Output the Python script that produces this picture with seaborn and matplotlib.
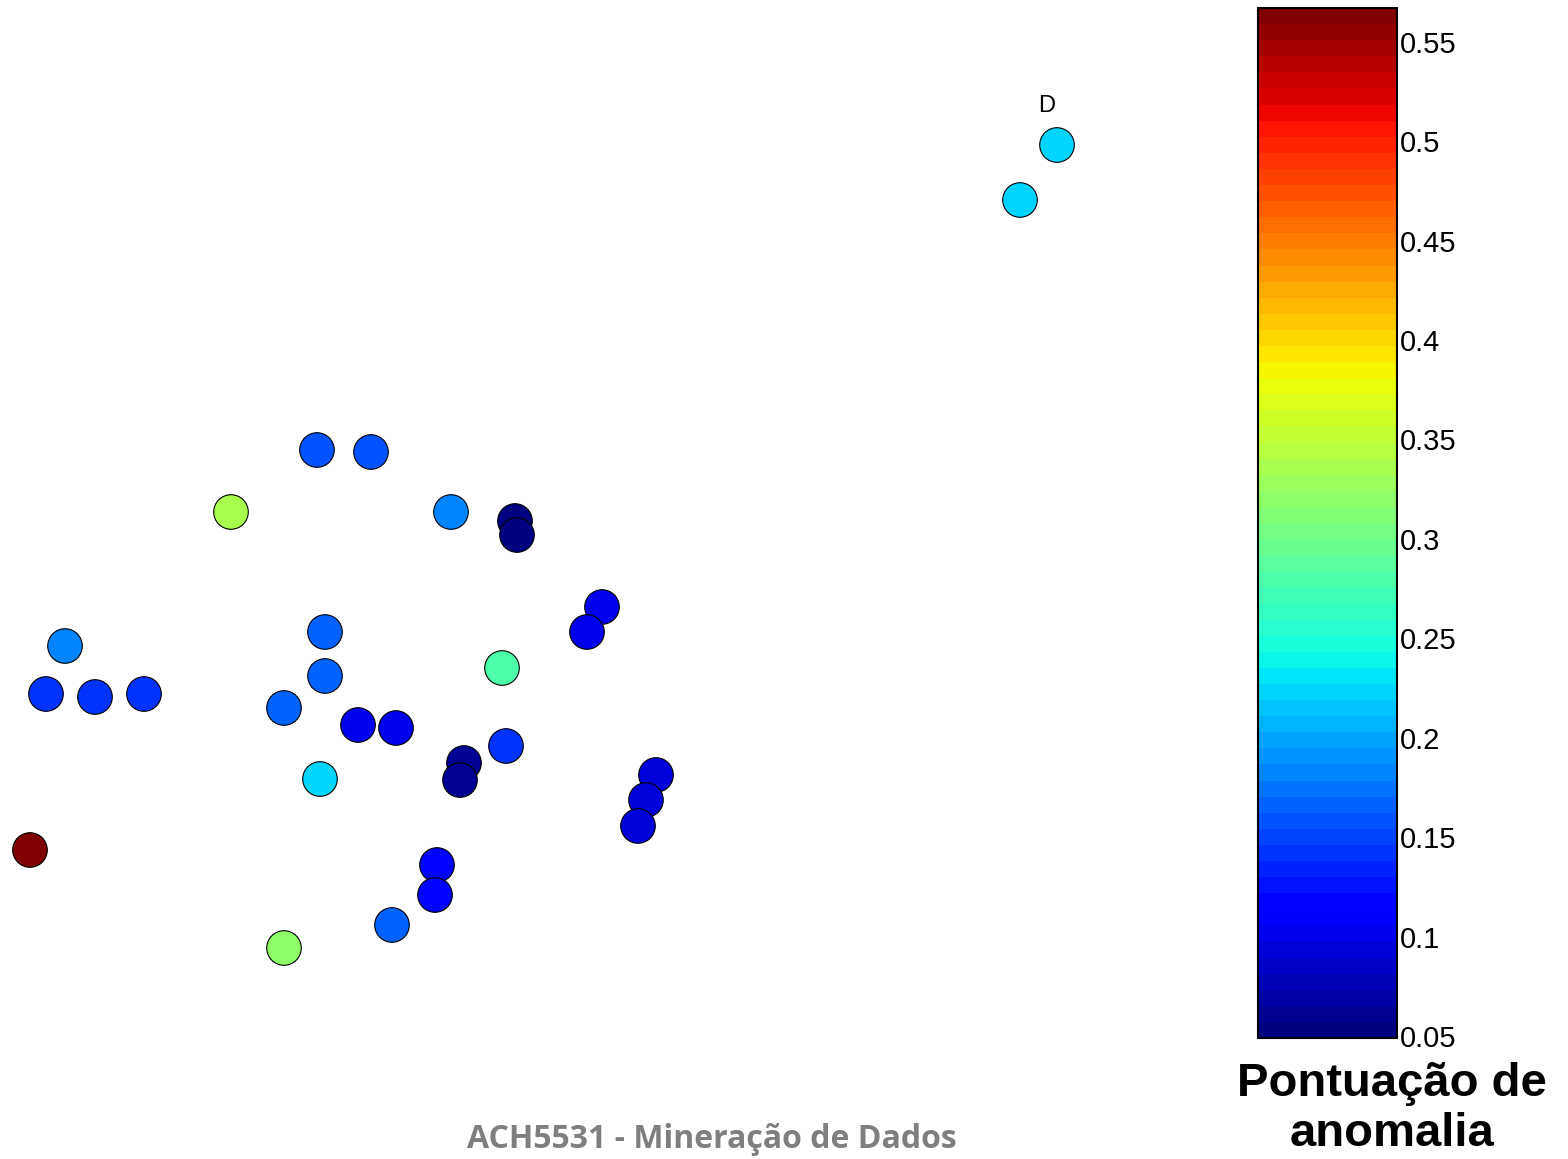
import numpy as np
import pandas as pd
import matplotlib
matplotlib.use("Agg")
import matplotlib.pyplot as plt
import matplotlib.colors as mcolors
import seaborn as sns

# posicoes dos objetos (unidades arbitrarias, eixo y para baixo)
x = [30, 65, 46, 95, 144, 231, 317, 371, 451, 515, 517, 602, 587, 325, 325, 284,
     502, 358, 396, 506, 464, 460, 320, 656, 646, 638, 437, 435, 392, 284, 1057, 1020]
y = [850, 646, 694, 697, 694, 512, 450, 452, 512, 521, 535, 607, 632, 632, 676, 708,
     668, 725, 728, 746, 763, 780, 779, 775, 800, 826, 865, 895, 925, 948, 145, 200]
# pontuacao de anomalia de cada objeto
score = [0.565, 0.185, 0.14, 0.14, 0.14, 0.334, 0.156, 0.156, 0.185, 0.055, 0.055, 0.10,
         0.10, 0.163, 0.163, 0.17, 0.276, 0.10, 0.10, 0.14, 0.06, 0.06, 0.226, 0.09,
         0.09, 0.095, 0.12, 0.12, 0.17, 0.318, 0.226, 0.226]
labels = [""] * 30 + ["D", ""]

cbar_ticks = [0.05, 0.1, 0.15, 0.2, 0.25, 0.3, 0.35, 0.4, 0.45, 0.5, 0.55]
vmin, vmax = 0.049, 0.567

df = pd.DataFrame({"x": x, "y": y, "score": score, "label": labels})

sns.set_style("white")
plt.rcParams['font.family'] = ['Liberation Sans', 'DejaVu Sans']
plt.rcParams['text.color'] = 'black'
plt.rcParams['ytick.color'] = 'black'

W, H = 1568, 1159
fig = plt.figure(figsize=(W / 100, H / 100), dpi=100)
ax = fig.add_axes([0, 0, 1230 / W, 1])

cmap = plt.get_cmap("jet", 64)
norm = mcolors.Normalize(vmin=vmin, vmax=vmax)

sns.scatterplot(data=df, x="x", y="y", hue="score", palette=cmap, hue_norm=norm,
                s=620, edgecolor="black", linewidth=0.8, legend=False, ax=ax)

for _, r in df[df["label"] != ""].iterrows():
    ax.text(r["x"] - 10, r["y"] - 28, r["label"], fontsize=17, ha="center", va="bottom")

ax.set_xlim(0, 1230)
ax.set_ylim(H, 0)
ax.set_axis_off()

# barra de cores
cax = fig.add_axes([1258 / W, (H - 1038) / H, 139 / W, 1030 / H])
sm = plt.cm.ScalarMappable(norm=norm, cmap=cmap)
cbar = fig.colorbar(sm, cax=cax, ticks=cbar_ticks)
cbar.ax.set_yticklabels([f"{t:g}" for t in cbar_ticks])
cbar.ax.tick_params(direction="in", left=True, right=True, length=5, width=1,
                    labelsize=21, pad=2, colors="black")
cbar.outline.set_linewidth(1.5)
cbar.outline.set_edgecolor("black")

fig.text(1392 / W, 1 - 1109 / H, "Pontuação de\nanomalia", ha="center", va="center",
         fontsize=34, fontweight="bold", linespacing=1.2)

fig.text(712 / W, 1 - 1140 / H, "ACH5531 - Mineração de Dados", ha="center", va="center",
         fontsize=23, fontweight="bold", color="#7f7f7f", family=["Open Sans", "DejaVu Sans"])

fig.savefig("out.png", dpi=100)
